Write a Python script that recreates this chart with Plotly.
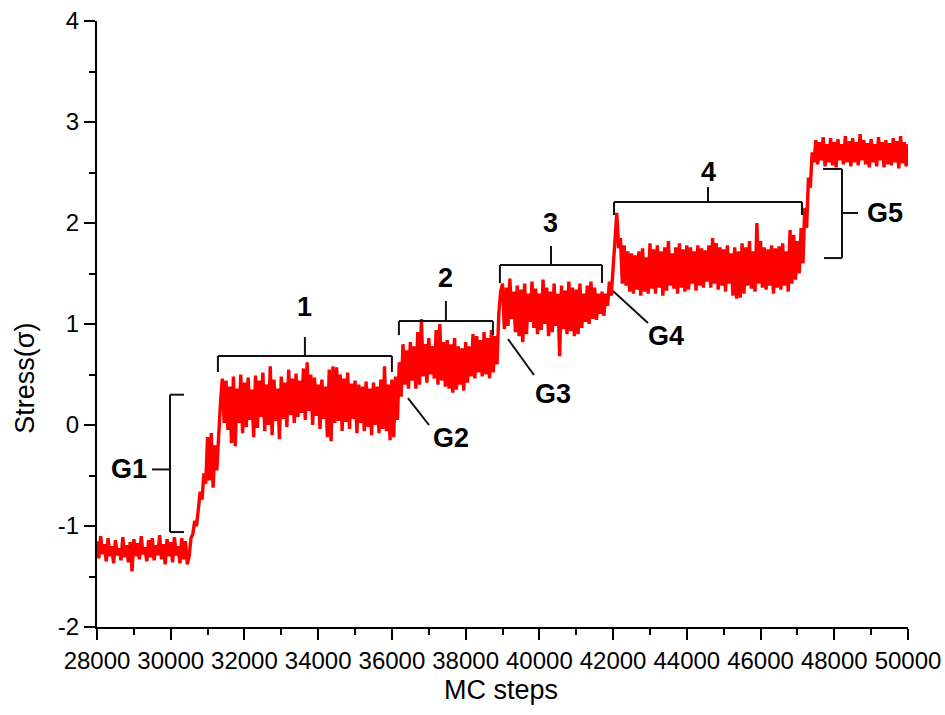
import plotly.graph_objects as go

# ---- data ----
step0 = 28000
step_dx = 50
stress = [
    -1.15, -1.32, -1.10, -1.28, -1.18, -1.35, -1.12, -1.30, -1.20, -1.37,
    -1.14, -1.29, -1.22, -1.34, -1.11, -1.31, -1.19, -1.36, -1.16, -1.45,
    -1.13, -1.30, -1.17, -1.33, -1.10, -1.28, -1.21, -1.35, -1.14, -1.31,
    -1.12, -1.34, -1.19, -1.29, -1.09, -1.33, -1.18, -1.38, -1.13, -1.30,
    -1.16, -1.36, -1.11, -1.29, -1.20, -1.37, -1.12, -1.33, -1.15, -1.38,
    -1.30, -1.12, -1.08, -0.95, -1.00, -0.80, -0.66, -0.74, -0.48, -0.58,
    -0.12, -0.55, -0.08, -0.62, -0.20, -0.45, -0.05, 0.22, 0.46, 0.02,
    0.44, -0.05, 0.38, -0.18, 0.48, -0.21, 0.36, 0.02, 0.50, -0.08,
    0.42, -0.02, 0.47, 0.05, 0.35, -0.12, 0.49, -0.03, 0.44, 0.08,
    0.52, -0.06, 0.40, 0.00, 0.58, -0.10, 0.45, 0.04, 0.36, -0.14,
    0.48, 0.06, 0.42, -0.02, 0.55, 0.10, 0.46, 0.02, 0.51, 0.08,
    0.44, 0.12, 0.56, 0.05, 0.62, 0.14, 0.50, 0.00, 0.47, 0.09,
    0.40, -0.04, 0.45, 0.06, 0.38, -0.12, 0.55, -0.16, 0.58, 0.02,
    0.57, 0.04, 0.50, -0.06, 0.46, 0.03, 0.52, -0.04, 0.41, 0.06,
    0.44, -0.08, 0.40, 0.02, 0.38, -0.06, 0.43, -0.02, 0.36, -0.10,
    0.42, 0.00, 0.38, -0.08, 0.45, -0.04, 0.58, -0.06, 0.40, -0.15,
    0.45, -0.12, 0.48, 0.05, 0.62, 0.28, 0.80, 0.40, 0.74, 0.36,
    0.82, 0.44, 0.78, 0.36, 0.92, 0.40, 1.05, 0.48, 0.80, 0.42,
    0.86, 0.50, 0.78, 0.46, 0.94, 0.40, 1.00, 0.44, 0.82, 0.38,
    0.84, 0.36, 0.80, 0.32, 0.86, 0.35, 0.78, 0.40, 0.76, 0.34,
    0.82, 0.42, 0.78, 0.48, 0.90, 0.46, 0.88, 0.52, 0.84, 0.48,
    0.92, 0.50, 0.86, 0.46, 0.94, 0.52, 0.88, 0.60, 1.10, 1.32,
    1.40, 0.95, 1.36, 0.98, 1.45, 1.05, 1.32, 0.92, 1.38, 0.88,
    1.34, 0.82, 1.40, 0.90, 1.30, 1.02, 1.42, 0.96, 1.35, 0.90,
    1.30, 0.94, 1.44, 1.00, 1.36, 0.88, 1.32, 0.92, 1.40, 0.98,
    1.30, 0.68, 1.38, 0.95, 1.33, 0.90, 1.42, 0.93, 1.36, 0.88,
    1.34, 0.90, 1.40, 0.96, 1.30, 1.02, 1.38, 1.00, 1.42, 1.05,
    1.36, 1.04, 1.30, 1.10, 1.32, 1.08, 1.30, 1.18, 1.42, 1.28,
    1.55, 1.90, 2.10, 1.75, 1.85, 1.40, 1.78, 1.38, 1.72, 1.32,
    1.70, 1.30, 1.68, 1.34, 1.72, 1.28, 1.75, 1.32, 1.66, 1.30,
    1.80, 1.35, 1.74, 1.30, 1.78, 1.36, 1.72, 1.28, 1.76, 1.33,
    1.82, 1.38, 1.70, 1.35, 1.76, 1.30, 1.80, 1.36, 1.74, 1.32,
    1.78, 1.34, 1.76, 1.40, 1.72, 1.33, 1.78, 1.38, 1.75, 1.36,
    1.73, 1.42, 1.78, 1.36, 1.85, 1.40, 1.80, 1.34, 1.76, 1.38,
    1.74, 1.32, 1.78, 1.40, 1.70, 1.28, 1.76, 1.25, 1.72, 1.26,
    1.80, 1.30, 1.76, 1.38, 1.82, 1.35, 1.72, 1.32, 2.00, 1.40,
    1.82, 1.36, 1.76, 1.34, 1.74, 1.38, 1.78, 1.30, 1.75, 1.36,
    1.77, 1.34, 1.80, 1.38, 1.72, 1.32, 1.93, 1.40, 1.88, 1.44,
    1.82, 1.50, 1.95, 1.60, 2.15, 1.95, 2.45, 2.35, 2.70, 2.60,
    2.82, 2.58, 2.80, 2.62, 2.85, 2.56, 2.78, 2.60, 2.84, 2.57,
    2.80, 2.55, 2.83, 2.62, 2.78, 2.58, 2.86, 2.60, 2.81, 2.56,
    2.84, 2.60, 2.80, 2.57, 2.88, 2.62, 2.82, 2.58, 2.79, 2.55,
    2.83, 2.60, 2.78, 2.56, 2.85, 2.62, 2.80, 2.55, 2.82, 2.58,
    2.79, 2.57, 2.84, 2.60, 2.81, 2.54, 2.86, 2.59, 2.80, 2.56,
    2.78,
]
mc_steps = [step0 + step_dx * i for i in range(len(stress))]

x_tick_vals = [28000, 30000, 32000, 34000, 36000, 38000, 40000, 42000, 44000, 46000, 48000, 50000]
x_tick_text = [str(v) for v in x_tick_vals]
y_tick_vals = [-2, -1, 0, 1, 2, 3, 4]
y_tick_text = [str(v) for v in y_tick_vals]

# plateau brackets: label, x-start, x-end
plateau_labels = ["1", "2", "3", "4"]
plateau_x0 = [31280, 36190, 38930, 42025]
plateau_x1 = [36000, 38740, 41700, 47125]

fig = go.Figure()
fig.add_trace(go.Scatter(
    x=mc_steps, y=stress, mode="lines",
    line=dict(color="#ff0000", width=3.4),
    showlegend=False, hoverinfo="skip",
))

LC = "#111111"
LW = 2
shapes = []
annos = []

def seg(x0, y0, x1, y1):
    shapes.append(dict(type="line", xref="x", yref="y", x0=x0, y0=y0, x1=x1, y1=y1,
                       line=dict(color=LC, width=LW)))

bold_font = dict(family="Arial, Liberation Sans, sans-serif", size=27, color="#000000")

# bracket geometry (y of bar, y of end ticks, y of centre tick top, y of label)
br_y = [0.683, 1.03, 1.584, 2.208]
br_end = [0.525, 0.89, 1.406, 2.079]
br_top = [0.871, 1.228, 1.772, 2.356]
br_lab = [1.17, 1.46, 2.00, 2.505]
for lab, x0, x1, yb, ye, yt, yl in zip(plateau_labels, plateau_x0, plateau_x1, br_y, br_end, br_top, br_lab):
    xc = (x0 + x1) / 2
    seg(x0, yb, x1, yb)
    seg(x0, yb, x0, ye)
    seg(x1, yb, x1, ye)
    seg(xc, yb, xc, yt)
    annos.append(dict(x=xc, y=yl, xref="x", yref="y", text="<b>%s</b>" % lab,
                      showarrow=False, font=bold_font, xanchor="center", yanchor="middle"))

# G1 bracket
seg(29980, 0.30, 29980, -1.06)
seg(29980, 0.30, 30360, 0.30)
seg(29980, -1.06, 30360, -1.06)
seg(29490, -0.44, 29980, -0.44)
annos.append(dict(x=29400, y=-0.44, xref="x", yref="y", text="<b>G1</b>", showarrow=False,
                  font=bold_font, xanchor="right", yanchor="middle"))

# G5 bracket
seg(48210, 2.535, 48210, 1.653)
seg(47694, 2.535, 48210, 2.535)
seg(47720, 1.653, 48210, 1.653)
seg(48210, 2.099, 48644, 2.099)
annos.append(dict(x=48820, y=2.099, xref="x", yref="y", text="<b>G5</b>", showarrow=False,
                  font=bold_font, xanchor="left", yanchor="middle"))

# G2, G3, G4 pointers
seg(36436, 0.267, 37006, 0.0)
annos.append(dict(x=37050, y=-0.13, xref="x", yref="y", text="<b>G2</b>", showarrow=False,
                  font=bold_font, xanchor="left", yanchor="middle"))
seg(39149, 0.851, 39854, 0.495)
annos.append(dict(x=39820, y=0.307, xref="x", yref="y", text="<b>G3</b>", showarrow=False,
                  font=bold_font, xanchor="left", yanchor="middle"))
seg(41998, 1.327, 42947, 1.01)
annos.append(dict(x=42880, y=0.881, xref="x", yref="y", text="<b>G4</b>", showarrow=False,
                  font=bold_font, xanchor="left", yanchor="middle"))

# axis titles
title_font = dict(family="Arial, Liberation Sans, sans-serif", size=27, color="#000000")
annos.append(dict(x=0.498, y=-0.104, xref="paper", yref="paper", text="MC steps", showarrow=False,
                  font=title_font, xanchor="center", yanchor="middle"))
annos.append(dict(x=-0.089, y=0.411, xref="paper", yref="paper", text="Stress(σ)", showarrow=False,
                  font=title_font, xanchor="center", yanchor="middle", textangle=-90))

tick_font = dict(family="Arial, Liberation Sans, sans-serif", size=24, color="#000000")
fig.update_layout(
    width=945, height=715,
    margin=dict(l=97, r=37, t=21, b=88, autoexpand=False),
    paper_bgcolor="white", plot_bgcolor="white",
    shapes=shapes, annotations=annos,
    xaxis=dict(range=[28000, 50000], tickvals=x_tick_vals, ticktext=x_tick_text, automargin=False,
               showgrid=False, zeroline=False, showline=True, linecolor="black", linewidth=2,
               ticks="outside", ticklen=11, tickwidth=2, tickcolor="black", tickfont=tick_font,
               minor=dict(dtick=1000, ticks="outside", ticklen=6, tickwidth=2, tickcolor="black", showgrid=False)),
    yaxis=dict(range=[-2, 4], tickvals=y_tick_vals, ticktext=y_tick_text, automargin=False,
               showgrid=False, zeroline=False, showline=True, linecolor="black", linewidth=2,
               ticks="outside", ticklen=11, tickwidth=2, tickcolor="black", tickfont=tick_font,
               minor=dict(dtick=0.5, ticks="outside", ticklen=6, tickwidth=2, tickcolor="black", showgrid=False)),
)

fig.write_html("out.html")
